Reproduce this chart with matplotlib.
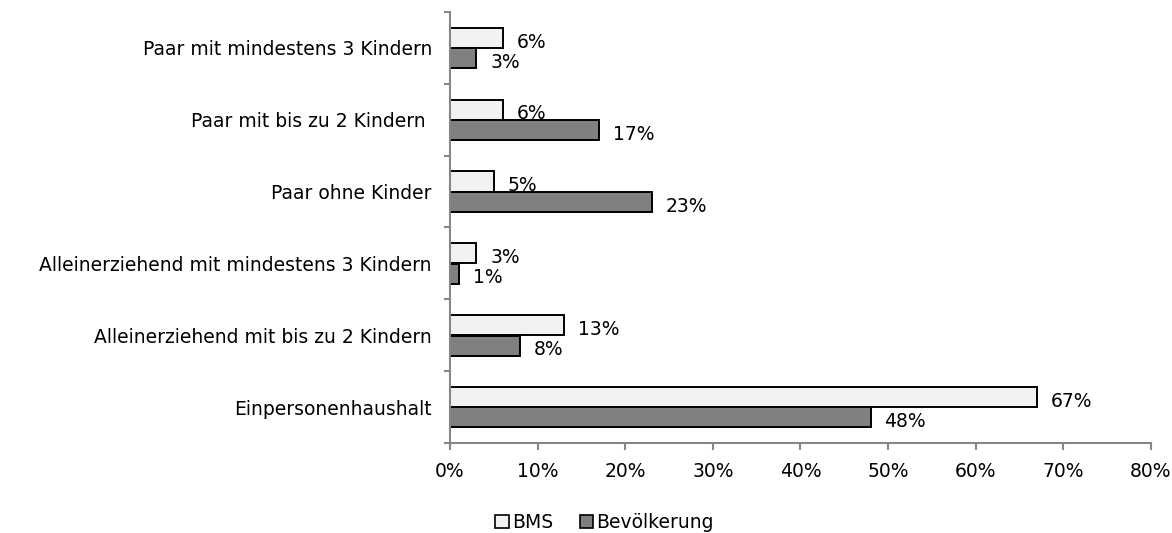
import numpy as np
import matplotlib
matplotlib.use("Agg")
from matplotlib import pyplot as plt
from matplotlib.patches import Patch

plt.rcParams['font.family'] = ['DejaVu Sans']

# Kategorien von unten nach oben
categories = [
    "Einpersonenhaushalt",
    "Alleinerziehend mit bis zu 2 Kindern",
    "Alleinerziehend mit mindestens 3 Kindern",
    "Paar ohne Kinder",
    "Paar mit bis zu 2 Kindern ",
    "Paar mit mindestens 3 Kindern",
]
bms = [67, 13, 3, 5, 6, 6]
bevoelkerung = [48, 8, 1, 23, 17, 3]
xticks = [0, 10, 20, 30, 40, 50, 60, 70, 80]

grey = "#868686"
fs = 13.5

fig = plt.figure(figsize=(11.72, 5.33), dpi=100)
ax = fig.add_axes([0.384, 0.169, 0.598, 0.8085])

y = np.arange(len(categories))
h = 0.28
ax.barh(y + 0.14, bms, height=h, color="#F2F2F2", edgecolor="black", linewidth=1.4, label="BMS")
ax.barh(y - 0.145, bevoelkerung, height=h, color="#808080", edgecolor="black", linewidth=1.4,
        label="Bevölkerung")

# Datenbeschriftungen rechts neben den Balken, leicht nach unten versetzt
for i in range(len(categories)):
    ax.annotate("%d%%" % bms[i], (bms[i], y[i] + 0.14), xytext=(10, -3), textcoords="offset points",
                va="center", ha="left", fontsize=fs)
    ax.annotate("%d%%" % bevoelkerung[i], (bevoelkerung[i], y[i] - 0.145), xytext=(10, -3),
                textcoords="offset points", va="center", ha="left", fontsize=fs)

ax.set_xlim(0, 80)
ax.set_ylim(-0.5, len(categories) - 0.5)
ax.set_xticks(xticks)
ax.set_xticklabels(["%d%%" % t for t in xticks], fontsize=fs)
ax.set_yticks(y)
ax.set_yticklabels(categories, fontsize=fs)
ax.set_yticks(np.arange(-0.5, len(categories)), minor=True)

for s in ["top", "right"]:
    ax.spines[s].set_visible(False)
for s in ["left", "bottom"]:
    ax.spines[s].set_color(grey)
    ax.spines[s].set_linewidth(1.5)

ax.tick_params(axis="y", which="major", length=0, pad=13)
ax.tick_params(axis="y", which="minor", length=4, width=1.5, color=grey, direction="out")
ax.tick_params(axis="x", which="major", length=5, width=1.5, color=grey, direction="out", pad=9)

handles = [Patch(facecolor="#F2F2F2", edgecolor="black", linewidth=1.2, label="BMS"),
           Patch(facecolor="#808080", edgecolor="black", linewidth=1.2, label="Bevölkerung")]
fig.legend(handles=handles, loc="center", bbox_to_anchor=(0.516, 0.02), ncol=2, frameon=False,
           fontsize=fs, handlelength=0.7, handleheight=0.7, handletextpad=0.2, columnspacing=1.4)

fig.savefig("out.png", dpi=100, facecolor="white")
